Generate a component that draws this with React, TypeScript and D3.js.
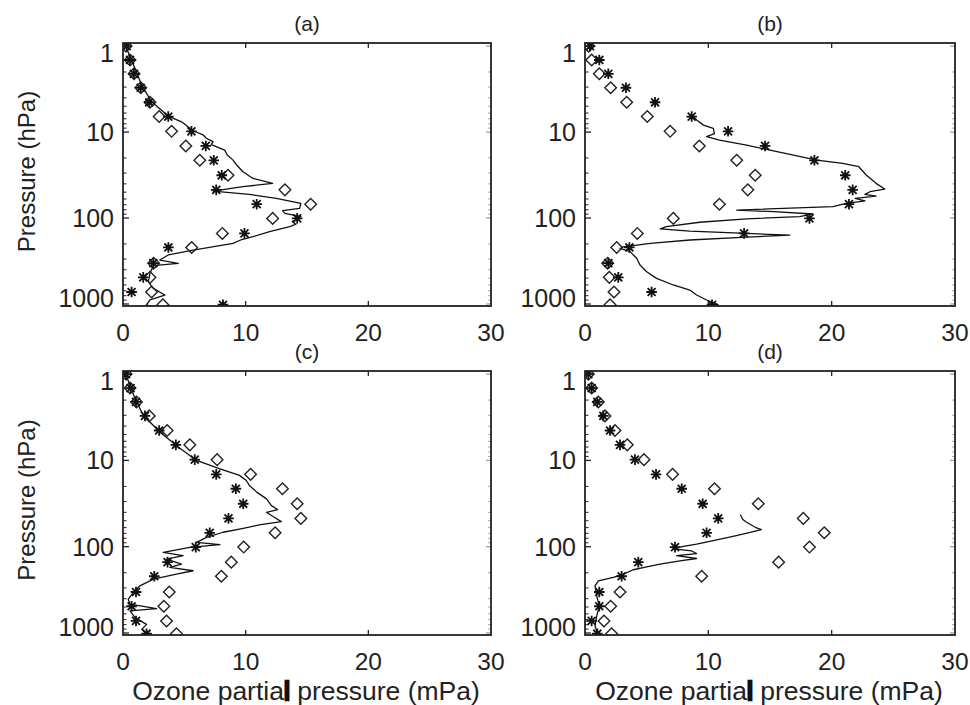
import React from 'react';
import * as d3 from 'd3';

// Shared pressure levels (hPa) for the symbol profiles
const pLevels = [1.0, 1.45, 2.1, 3.05, 4.5, 6.6, 9.8, 14.5, 21.3, 31.8, 47, 69, 101, 151, 220, 335, 490, 725, 1020];

// Ozone partial pressure (mPa) at pLevels: asterisks and diamonds
const starA = [0.3, 0.57, 0.89, 1.44, 2.14, 3.69, 5.58, 6.75, 7.4, 8.05, 7.6, 10.9, 14.2, 9.9, 3.7, 2.47, 1.65, 0.7, 8.15];
const diamA = [0.25, 0.57, 0.9, 1.45, 2.2, 2.95, 3.96, 5.12, 6.26, 8.56, 13.2, 15.3, 12.2, 8.1, 5.6, 2.5, 2.2, 2.33, 3.25];
const starB = [0.4, 1.16, 1.89, 3.32, 5.68, 8.65, 11.6, 14.6, 18.6, 21.1, 21.7, 21.4, 18.2, 12.9, 3.6, 1.89, 2.7, 5.4, 10.3];
const diamB = [0.3, 0.54, 1.16, 2.08, 3.38, 5.05, 6.9, 9.27, 12.3, 13.8, 13.2, 10.9, 7.16, 4.24, 2.57, 1.84, 1.97, 2.35, 2.03];
const starC = [0.25, 0.62, 1.06, 1.79, 2.95, 4.31, 5.85, 7.6, 9.2, 9.8, 8.6, 7.07, 5.93, 3.63, 2.55, 1.06, 0.7, 1.06, 1.92];
const diamC = [0.25, 0.57, 1.1, 2.14, 3.6, 5.45, 7.67, 10.4, 13.0, 14.2, 14.5, 12.4, 9.84, 8.83, 8.02, 3.77, 3.33, 3.55, 4.36];
const starD = [0.27, 0.54, 1.0, 1.49, 2.03, 2.84, 4.05, 5.76, 7.84, 9.54, 10.8, 9.86, 7.3, 4.32, 2.97, 1.16, 1.16, 0.54, 1.0];
const diamD = [0.27, 0.54, 1.08, 1.62, 2.43, 3.43, 4.78, 7.1, 10.5, 14.05, 17.7, 19.4, 18.2, 15.7, 9.46, 2.84, 2.08, 1.54, 2.16];

// Continuous profiles: [pressure hPa, ozone mPa]
const lineA = [
  [0.95, 0.16], [1.3, 0.55], [1.82, 0.98], [2.84, 1.52], [4.44, 2.33], [6.51, 3.69], [7.59, 4.77], [9.65, 5.72],
  [10.8, 6.53], [11.8, 6.8], [12.9, 7.34], [14.0, 7.2], [16.2, 8.29], [18.5, 8.5], [21.2, 8.97], [24.5, 9.3],
  [28.9, 9.78], [34.6, 10.6], [39.5, 12.2], [43.2, 9.78], [48.5, 7.34], [53.1, 10.3], [59.1, 12.5], [67.5, 14.5],
  [77.2, 14.4], [82, 13.0], [88.3, 13.2], [96.5, 14.5], [110, 13.8], [118, 14.1], [126, 13.6], [144, 11.95],
  [165, 10.6], [180, 9.6], [197, 8.97], [236, 5.72], [269, 3.69], [308, 3.0], [336, 4.5], [358, 2.47],
  [440, 2.2], [550, 2.06], [657, 2.47], [786, 3.41], [898, 2.2], [1027, 1.9], [1080, 2.5],
];
const lineB = [
  [6.3, 8.65], [7.25, 9.05], [8.3, 9.6], [9.06, 10.4], [10.4, 10.5], [11.3, 9.86], [12.4, 10.9], [14.2, 13.1],
  [16.2, 15.0], [18.5, 16.9], [21.2, 18.8], [23.1, 20.9], [25.3, 22.2], [31.6, 22.8], [39.5, 23.6], [46, 24.3],
  [49.4, 23.1], [53, 22.7], [55.6, 23.6], [59, 21.9], [63, 22.7], [67.6, 21.2], [73.8, 20.1], [80.8, 12.3],
  [84.4, 15.3], [89.7, 18.5], [96.5, 17.4], [102, 13.1], [112, 9.3], [126, 6.6], [134, 6.1], [142, 8.5],
  [151, 13.1], [158, 16.6], [167, 13.1], [180, 8.5], [197, 5.3], [216, 3.1], [226, 2.84], [246, 3.65],
  [294, 4.19], [352, 4.46], [421, 5.0], [503, 5.8], [601, 7.16], [688, 8.5], [786, 9.05], [898, 9.86],
  [1000, 10.7], [1080, 11.0],
];
const lineC = [
  [0.95, 0.16], [1.92, 0.98], [3.0, 1.65], [4.68, 3.0], [7.0, 4.5], [10, 6.0], [12.5, 7.9], [14.9, 9.5],
  [17.1, 10.05], [19.5, 10.3], [23.3, 10.9], [27.9, 11.7], [33.4, 12.1], [37.1, 12.6], [39.9, 11.7], [44.4, 12.2],
  [51.2, 12.9], [56, 11.1], [61.2, 9.8], [68, 8.16], [77.9, 6.8], [89, 6.0], [94.8, 7.9], [102, 5.45],
  [116, 3.28], [127, 4.9], [139, 3.55], [159, 4.77], [174, 3.82], [190, 5.72], [208, 4.36], [238, 2.47],
  [284, 1.38], [340, 0.84], [406, 0.43], [464, 0.57], [521, 2.74], [555, 0.57], [663, 0.98], [794, 1.92],
  [907, 1.52], [1064, 2.2],
];
const lineD = [
  [42.5, 12.6], [45.6, 12.7], [48.5, 12.8], [52.1, 13.1], [59.6, 13.8], [63.4, 14.3], [68.1, 13.4], [75.8, 12.0], [85.2, 10.4],
  [93.1, 9.05], [99.1, 7.97], [106, 7.16], [112, 8.65], [120, 9.05], [127, 7.43], [137, 9.05], [146, 7.7],
  [159, 6.08], [171, 5.0], [185, 3.92], [208, 3.1], [227, 2.3], [249, 1.08], [284, 0.81], [371, 0.95],
  [485, 1.16], [634, 0.95], [829, 0.81], [1064, 1.08],
];

const xTicks = [0, 10, 20, 30];
const xTickLabels = ['0', '10', '20', '30'];
const yMajor = [1, 10, 100, 1000];
const yTickLabels = ['1', '10', '100', '1000'];
const yDomain = [0.92, 1055];
const panelTitles = ['(a)', '(b)', '(c)', '(d)'];

const FONT = '"Liberation Sans", Arial, Helvetica, sans-serif';

type PanelProps = {
  idx: number;
  title: string;
  star: number[];
  diam: number[];
  line: number[][];
  x0: number; x1: number; y0: number; y1: number;
  xTitle: boolean;
  yTitle: boolean;
};

function Panel({ idx, title, star, diam, line, x0, x1, y0, y1, xTitle, yTitle }: PanelProps) {
  const x = d3.scaleLinear().domain([0, 30]).range([x0, x1]);
  const y = d3.scaleLog().domain(yDomain).range([y0, y1]);
  const allTicks = y.ticks();
  const minor = allTicks.filter((t) => !yMajor.includes(t));
  const lineGen = d3.line<number[]>().x((d) => x(d[1])).y((d) => y(d[0]));
  const clipId = `clip-${idx}`;
  const r = 5.3;
  const rd = 5.8;
  const cx = (x0 + x1) / 2;
  const cy = (y0 + y1) / 2;
  return (
    <g>
      <defs>
        <clipPath id={clipId}>
          <rect x={x0} y={y0} width={x1 - x0} height={y1 - y0} />
        </clipPath>
      </defs>
      <g clipPath={`url(#${clipId})`}>
        <path d={lineGen(line) || ''} fill="none" stroke="#111" strokeWidth={1.3} strokeLinejoin="round" />
        {pLevels.map((p, i) => {
          const px = x(diam[i]);
          const py = y(p);
          return (
            <path key={`d${i}`} d={`M${px},${py - rd}L${px + rd},${py}L${px},${py + rd}L${px - rd},${py}Z`}
              fill="none" stroke="#222" strokeWidth={1.4} />
          );
        })}
        {pLevels.map((p, i) => {
          const px = x(star[i]);
          const py = y(p);
          const k = r * 0.75;
          return (
            <path key={`s${i}`}
              d={`M${px - r},${py}L${px + r},${py}M${px},${py - r}L${px},${py + r}M${px - k},${py - k}L${px + k},${py + k}M${px - k},${py + k}L${px + k},${py - k}`}
              fill="none" stroke="#111" strokeWidth={1.8} />
          );
        })}
      </g>
      {/* left axis ticks */}
      {yMajor.map((t) => (
        <line key={`lm${t}`} x1={x0} x2={x0 + 6} y1={y(t)} y2={y(t)} stroke="#222" strokeWidth={1.3} />
      ))}
      {minor.map((t) => (
        <line key={`ln${t}`} x1={x0} x2={x0 + 3.5} y1={y(t)} y2={y(t)} stroke="#333" strokeWidth={1.1} />
      ))}
      {/* right axis ticks */}
      {yMajor.map((t) => (
        <line key={`rm${t}`} x1={x1} x2={x1 - 5} y1={y(t)} y2={y(t)} stroke="#999" strokeWidth={1.2} />
      ))}
      {minor.map((t) => (
        <line key={`rn${t}`} x1={x1} x2={x1 - 3} y1={y(t)} y2={y(t)} stroke="#aaa" strokeWidth={1} />
      ))}
      {/* top & bottom ticks */}
      {xTicks.slice(1, -1).map((t) => (
        <g key={`xt${t}`}>
          <line x1={x(t)} x2={x(t)} y1={y0} y2={y0 + 5} stroke="#222" strokeWidth={1.3} />
          <line x1={x(t)} x2={x(t)} y1={y1} y2={y1 - 5} stroke="#222" strokeWidth={1.3} />
        </g>
      ))}
      <rect x={x0} y={y0} width={x1 - x0} height={y1 - y0} fill="none" stroke="#222" strokeWidth={1.8} />
      {/* y tick labels */}
      {yMajor.map((t, i) => {
        const yy = Math.max(y0 + 10, Math.min(y1 - 8, y(t)));
        return (
          <text key={`yl${t}`} x={x0 - 9} y={yy} dy="0.36em" textAnchor="end" fontSize={25} fontFamily={FONT} fill="#222">
            {yTickLabels[i]}
          </text>
        );
      })}
      {/* x tick labels */}
      {xTicks.map((t, i) => (
        <text key={`xl${t}`} x={x(t)} y={y1 + 35} textAnchor="middle" fontSize={24.5} fontFamily={FONT} fill="#222">
          {xTickLabels[i]}
        </text>
      ))}
      <text x={cx} y={y0 - 12} textAnchor="middle" fontSize={21} fontFamily={FONT} fill="#222">{title}</text>
      {yTitle && (
        <text transform={`translate(${x0 - 88},${cy - 3}) rotate(-90)`} textAnchor="middle" fontSize={24} fontFamily={FONT} fill="#222">
          Pressure (hPa)
        </text>
      )}
      {xTitle && (
        <text x={cx - 1} y={y1 + 65} textAnchor="middle" fontSize={26.5} fontFamily={FONT} fill="#222">
          Ozone partia<tspan stroke="#111" strokeWidth={2.6}>l</tspan> pressure (mPa)
        </text>
      )}
    </g>
  );
}

export default function App() {
  const layout = [
    { x0: 123, x1: 491, y0: 43, y1: 306, xTitle: false, yTitle: true },
    { x0: 585, x1: 955, y0: 43, y1: 306, xTitle: false, yTitle: false },
    { x0: 123, x1: 491, y0: 371, y1: 635, xTitle: true, yTitle: true },
    { x0: 585, x1: 955, y0: 371, y1: 635, xTitle: true, yTitle: false },
  ];
  const stars = [starA, starB, starC, starD];
  const diams = [diamA, diamB, diamC, diamD];
  const lines = [lineA, lineB, lineC, lineD];
  return (
    <svg width={970} height={705} style={{ position: 'absolute', left: 0, top: 0, background: '#fff' }}>
      <rect width={970} height={705} fill="#fff" />
      {layout.map((l, i) => (
        <Panel key={i} idx={i} title={panelTitles[i]} star={stars[i]} diam={diams[i]} line={lines[i]} {...l} />
      ))}
    </svg>
  );
}
